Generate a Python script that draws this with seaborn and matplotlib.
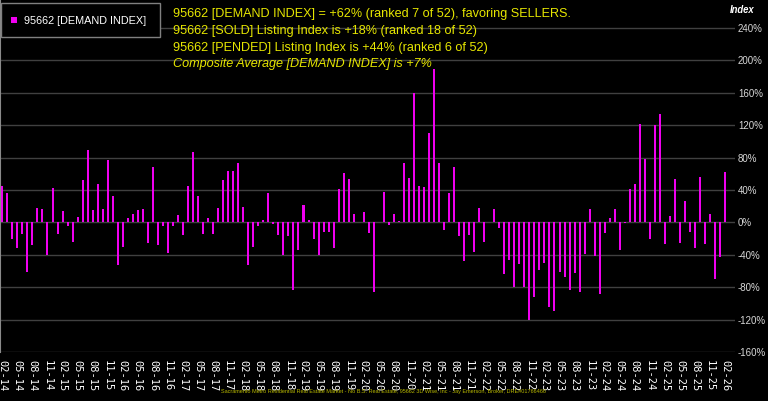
import seaborn as sns
import pandas as pd
import matplotlib.pyplot as plt
import numpy as np
from matplotlib import font_manager
from matplotlib.patches import Rectangle

# monthly demand index, 02-14 .. 02-26 (percent)
demand_index = [
    45, 36, -21, -31, -14, -61, -28, 18, 17, -40, 43, -14,
    14, -5, -24, 7, 52, 90, 15, 47, 16, 77, 33, -52,
    -30, 6, 11, 15, 16, -25, 69, -28, -5, -38, -4, 9,
    -16, 45, 87, 33, -14, 5, -14, 18, 52, 63, 63, 73,
    19, -52, -30, -5, 3, 36, -2, -16, -40, -17, -84, -34,
    22, 3, -21, -40, -12, -12, -31, 41, 61, 53, 10, 0,
    13, -13, -86, 1, 38, -3, 10, 2, 73, 55, 160, 45,
    44, 110, 189, 73, -9, 36, 68, -17, -48, -16, -36, 18,
    -24, 1, 16, -7, -64, -47, -80, -51, -80, -120, -92, -59,
    -50, -104, -109, -61, -68, -83, -63, -86, -39, 16, -41, -88,
    -13, 5, 16, -34, -1, 41, 47, 121, 78, -21, 120, 134,
    -27, 8, 53, -26, 26, -12, -32, 56, -27, 11, -70, -43,
    62,
]
months = [p.strftime("%m-%y") for p in pd.period_range("2014-02", periods=len(demand_index), freq="M")]
y_ticks = [-160, -120, -80, -40, 0, 40, 80, 120, 160, 200, 240]

headline = [
    "95662 [DEMAND INDEX] = +62% (ranked 7 of 52), favoring SELLERS.",
    "95662 [SOLD] Listing Index is +18% (ranked 18 of 52)",
    "95662 [PENDED] Listing Index is +44% (ranked 6 of 52)",
]
composite = "Composite Average [DEMAND INDEX] is +7%"
footer = ("Sacramento Metro Residential Real Estate Market - No B.S. Real Estate, "
          "95662 3D Wise, Inc - Jay Emerson, Broker, DRE#01766466")

SANS = "Liberation Sans"
MAGENTA = "#f000f0"
YELLOW = "#e6e600"
W, H = 768, 401

df = pd.DataFrame({"month": months, "value": demand_index})

fig = plt.figure(figsize=(7.68, 4.01), dpi=100, facecolor="black")
ax = fig.add_axes([0, 49 / H, 735 / W, 352 / H], facecolor="black")

sns.barplot(data=df, x="month", y="value", order=months, color=MAGENTA,
            width=0.4, saturation=1, ax=ax)
for p in ax.patches:
    p.set_antialiased(False)
    p.set_linewidth(0)

ax.set_xlim(-0.46, 145.96)
ax.set_ylim(-160, 274.6)
ax.set_yticks(y_ticks)
ax.set_yticklabels([f"{v}%" for v in y_ticks], family=SANS)
ax.yaxis.tick_right()
ax.tick_params(axis="y", length=0, pad=2.2, labelsize=7, labelcolor="#d8d8d8")
ax.grid(axis="y", color="#404040", linewidth=1)
ax.set_axisbelow(True)

xt = list(range(0, len(months), 3))
ax.set_xticks(xt)
ax.set_xticklabels([months[i] for i in xt], rotation=-90, family="DejaVu Sans Mono",
                   fontsize=7.5, color="white", va="top")
ax.tick_params(axis="x", length=0, pad=5.5)
ax.set_xlabel("")
ax.set_ylabel("")
for s in ["top", "right", "bottom"]:
    ax.spines[s].set_visible(False)
ax.spines["left"].set_color("#8a8a8a")


def fx(x):
    return x / W


def fy(y):
    return 1 - y / H


renderer = fig.canvas.get_renderer()


def fit_text(x, y, s, width_px, **kw):
    # size the text so that it spans width_px pixels like the reference
    t = fig.text(fx(x), fy(y), s, fontsize=10, **kw)
    w = t.get_window_extent(renderer).width
    t.set_fontsize(10 * width_px / w)
    return t


# legend box
fig.patches.append(Rectangle((fx(1), fy(37)), fx(159), 34 / H, transform=fig.transFigure,
                             facecolor="black", edgecolor="#808080", linewidth=1, zorder=5))
fig.patches.append(Rectangle((fx(11), fy(23)), fx(6), 6 / H, transform=fig.transFigure,
                             facecolor=MAGENTA, edgecolor="none", zorder=6))
fit_text(24, 20.5, "95662 [DEMAND INDEX]", 123, family=SANS, color="white",
         va="center", zorder=7)

t0 = fit_text(173, 14, headline[0], 400, family=SANS, color=YELLOW, va="center")
size = t0.get_fontsize()
for i, line in enumerate(headline[1:], start=1):
    fig.text(fx(173), fy(14 + 17 * i), line, family=SANS, fontsize=size,
             color=YELLOW, va="center")
fig.text(fx(173), fy(64.5), composite, family=SANS, fontsize=size,
         style="italic", color=YELLOW, va="center")

fit_text(730, 10, "Index", 25, family=SANS, style="italic", weight="bold",
         color="white", va="center")
fit_text(221, 392, footer, 326, family=SANS, color="#b8b800", va="center")

fig.savefig("out.png", dpi=100, facecolor="black")
